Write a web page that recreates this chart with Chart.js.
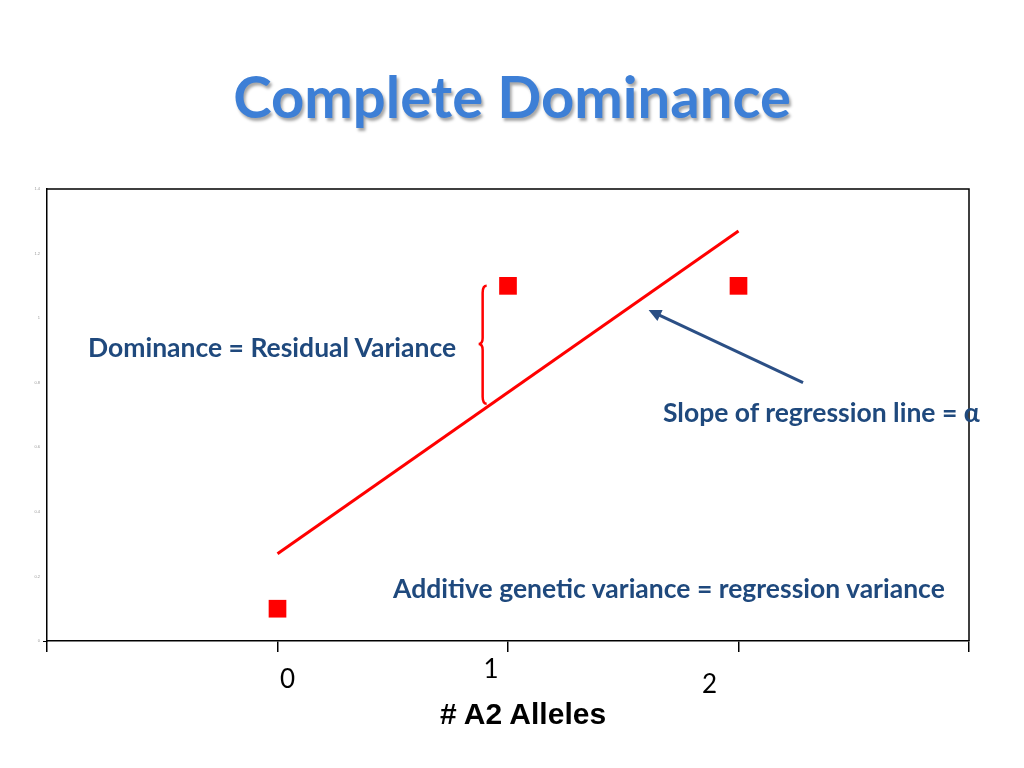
<!DOCTYPE html>
<html>
<head>
<meta charset="utf-8">
<script src="https://cdn.jsdelivr.net/npm/chart.js@4.4.0/dist/chart.umd.min.js"></script>
<style>
  body { margin: 0; background: #fff; }
  #wrap { position: relative; width: 1024px; height: 768px; overflow: hidden; }
  #wrap canvas { position: absolute; left: 0; top: 0; }
  .txt { position: absolute; white-space: nowrap; line-height: 1; }
  .title { left: 0; width: 1024px; top: 61px; text-align: center; font: bold 58px Lato, "Open Sans", sans-serif; color: #3d7fd6; text-shadow: 2px 3px 3px rgba(0,0,0,0.35); }
  .note { font: bold 26.5px Lato, "Open Sans", sans-serif; color: #1f497d; }
  .axis { font: bold 30px "Liberation Sans", Arial, sans-serif; color: #000; left: 0; width: 1046px; text-align: center; top: 697px; }
</style>
</head>
<body>
<div id="wrap">
  <canvas id="chart" width="1024" height="768"></canvas>
  <div class="txt title">Complete Dominance</div>
  <div class="txt note" style="left:88px; top:331px;">Dominance = Residual Variance</div>
  <div class="txt note" style="left:663px; top:396px;">Slope of regression line = α</div>
  <div class="txt note" style="left:393px; top:572px;">Additive genetic variance = regression variance</div>
  <div class="txt axis"># A2 Alleles</div>
</div>
<script>
// genotype classes and their phenotypic values
const alleles = [0, 1, 2];
const phenotype = [0.1, 1.1, 1.1];

// regression line end points
const lineX = [0, 2];
const lineY = [0.27, 1.27];

// axis ticks
const xTicks = [-1, 0, 1, 2, 3];
const xTickLabels = ["", "0", "1", "2", ""];
const yTicks = [0, 0.2, 0.4, 0.6, 0.8, 1, 1.2, 1.4];
const yTickLabels = ["0", "0.2", "0.4", "0.6", "0.8", "1", "1.2", "1.4"];

// annotations in data units
const braceAt = { x: 0.89, top: 1.1, mid: 0.92, bottom: 0.735 };
const arrowFrom = { x: 2.28, y: 0.8 };
const arrowTo = { x: 1.61, y: 1.025 };

const extras = {
  id: "extras",
  afterDraw(chart) {
    const { ctx, chartArea: a, scales: { x, y } } = chart;
    ctx.save();

    // top and right of the frame
    ctx.strokeStyle = "#000";
    ctx.lineWidth = 1.5;
    ctx.beginPath();
    ctx.moveTo(a.left, a.top);
    ctx.lineTo(a.right, a.top);
    ctx.lineTo(a.right, a.bottom);
    ctx.stroke();

    // brace
    const bx = x.getPixelForValue(braceAt.x);
    const t = y.getPixelForValue(braceAt.top);
    const m = y.getPixelForValue(braceAt.mid);
    const b = y.getPixelForValue(braceAt.bottom);
    ctx.strokeStyle = "#ff0000";
    ctx.lineWidth = 2.5;
    ctx.beginPath();
    ctx.moveTo(bx + 4, t);
    ctx.quadraticCurveTo(bx, t, bx, t + 7);
    ctx.lineTo(bx, m - 6);
    ctx.quadraticCurveTo(bx, m, bx - 4, m);
    ctx.quadraticCurveTo(bx, m, bx, m + 6);
    ctx.lineTo(bx, b - 7);
    ctx.quadraticCurveTo(bx, b, bx + 4, b);
    ctx.stroke();

    // arrow
    const x1 = x.getPixelForValue(arrowFrom.x), y1 = y.getPixelForValue(arrowFrom.y);
    const x2 = x.getPixelForValue(arrowTo.x), y2 = y.getPixelForValue(arrowTo.y);
    const ang = Math.atan2(y2 - y1, x2 - x1);
    const head = 14;
    ctx.strokeStyle = "#2b4f85";
    ctx.fillStyle = "#2b4f85";
    ctx.lineWidth = 3;
    ctx.beginPath();
    ctx.moveTo(x1, y1);
    ctx.lineTo(x2 - Math.cos(ang) * head * 0.8, y2 - Math.sin(ang) * head * 0.8);
    ctx.stroke();
    ctx.beginPath();
    ctx.moveTo(x2, y2);
    ctx.lineTo(x2 - head * Math.cos(ang - 0.45), y2 - head * Math.sin(ang - 0.45));
    ctx.lineTo(x2 - head * Math.cos(ang + 0.45), y2 - head * Math.sin(ang + 0.45));
    ctx.closePath();
    ctx.fill();

    // x tick labels, sitting a little off their ticks like the slide text boxes
    const nudge = { "0": [10, 39], "1": [-17, 29], "2": [-29, 44] };
    ctx.fillStyle = "#000";
    ctx.font = "26px Lato, 'Open Sans', sans-serif";
    ctx.textAlign = "center";
    ctx.textBaseline = "middle";
    xTicks.forEach((v, i) => {
      const lab = xTickLabels[i];
      if (!lab) return;
      const n = nudge[lab] || [0, 34];
      ctx.fillText(lab, x.getPixelForValue(v) + n[0], a.bottom + n[1]);
    });
    ctx.restore();
  }
};

new Chart(document.getElementById("chart"), {
  type: "scatter",
  data: {
    datasets: [
      {
        type: "line",
        data: lineX.map((v, i) => ({ x: v, y: lineY[i] })),
        borderColor: "#ff0000",
        borderWidth: 3,
        pointRadius: 0,
        fill: false,
      },
      {
        data: alleles.map((v, i) => ({ x: v, y: phenotype[i] })),
        pointStyle: "rect",
        pointRadius: 12.5,
        pointBackgroundColor: "#ff0000",
        pointBorderWidth: 0,
      },
    ],
  },
  options: {
    responsive: false,
    animation: false,
    layout: { padding: { left: 0, top: 189, right: 55, bottom: 0 } },
    plugins: { legend: { display: false }, tooltip: { enabled: false } },
    scales: {
      x: {
        type: "linear",
        min: -1,
        max: 3,
        afterBuildTicks: (s) => { s.ticks = xTicks.map((v) => ({ value: v })); },
        afterFit: (s) => { s.height = 127; },
        ticks: { display: false },
        grid: { drawOnChartArea: false, color: "#000", lineWidth: 1.5, tickLength: 11 },
        border: { color: "#000", width: 1.5 },
      },
      y: {
        min: 0,
        max: 1.4,
        afterBuildTicks: (s) => { s.ticks = yTicks.map((v) => ({ value: v })); },
        afterFit: (s) => { s.width = 47; },
        ticks: {
          padding: 3,
          color: "#999",
          font: { size: 4 },
          callback: (v, i) => yTickLabels[i],
        },
        grid: {
          drawOnChartArea: false,
          tickLength: 4,
          color: (c) => (c.tick && c.tick.value === 0 ? "#000" : "rgba(0,0,0,0)"),
        },
        border: { color: "#000", width: 1.5 },
      },
    },
  },
  plugins: [extras],
});
</script>
</body>
</html>
